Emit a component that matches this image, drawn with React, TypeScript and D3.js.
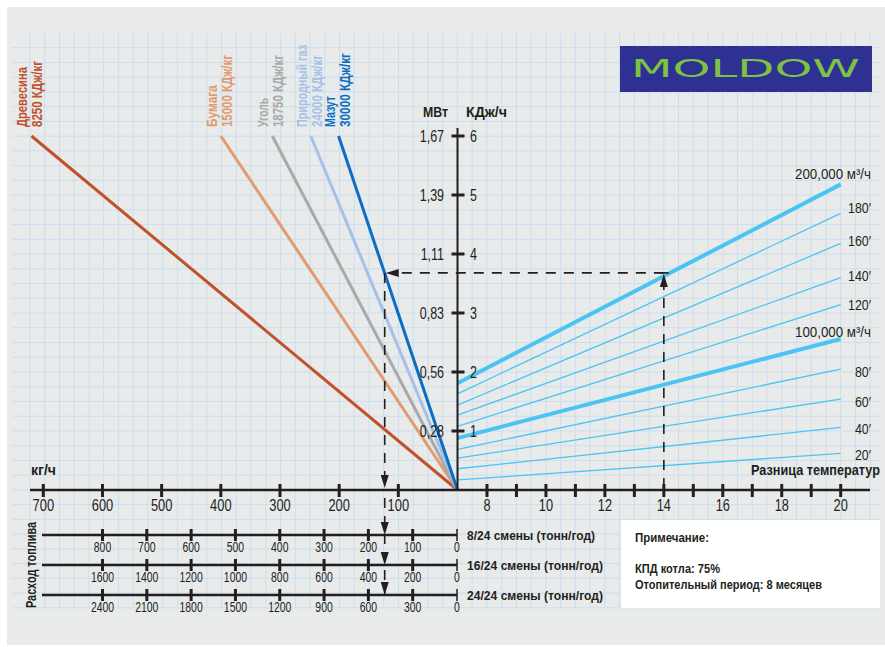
import React from "react";
import * as d3 from "d3";

// ---------- DATA ----------
const fuelNames = ["Древесина", "Бумага", "Уголь", "Природный газ", "Мазут"];
const fuelHeat = ["8250 КДж/кг", "15000 КДж/кг", "18750 КДж/кг", "24000 КДж/кг", "30000 КДж/кг"];
// kg/h at which each fuel line reaches the top of the energy scale (6)
const fuelKgAtTop = [720, 400, 313, 248, 201];
const fuelTopEnergy = 6;

const flowLabels = ["200,000 м³/ч", "180′", "160′", "140′", "120′", "100,000 м³/ч", "80′", "60′", "40′", "20′"];
const flowThick = [true, false, false, false, false, true, false, false, false, false];
const flowAtDT7 = [1.81, 1.63, 1.44, 1.27, 1.08, 0.88, 0.69, 0.54, 0.36, 0.17];
const flowAtDT20 = [5.18, 4.69, 4.18, 3.6, 3.14, 2.56, 2.05, 1.54, 1.06, 0.62];

const kgTicks = [100, 200, 300, 400, 500, 600, 700];
const tempTicks = [8, 9, 10, 11, 12, 13, 14, 15, 16, 17, 18, 19, 20];
const tempLabelTicks = [8, 10, 12, 14, 16, 18, 20];
const energyTicks = [1, 2, 3, 4, 5, 6];
const mwLabels = ["0,28", "0,56", "0,83", "1,11", "1,39", "1,67"];

const shift8 = [800, 700, 600, 500, 400, 300, 200, 100, 0];
const shift16 = [1600, 1400, 1200, 1000, 800, 600, 400, 200, 0];
const shift24 = [2400, 2100, 1800, 1500, 1200, 900, 600, 300, 0];
const shiftNames = ["8/24 смены (тонн/год)", "16/24 смены (тонн/год)", "24/24 смены (тонн/год)"];

const exampleDT = 14;
const exampleEnergy = 3.68;
const exampleKg = 123;

const noteLines = ["Примечание:", "КПД котла: 75%", "Отопительный период: 8 месяцев"];

// ---------- STYLE ----------
const fuelColors = ["#c1502b", "#e29a70", "#a9a9a9", "#a5c1e7", "#0b6ec3"];
const flowColor = "#4cc4f3";
const ink = "#231f20";
const FONT = "'Liberation Sans', Arial, sans-serif";
const flowLabelDy = [-5, 0, 3, 3, 5, -2, 8, 8, 7, 7];
const fuelNameLen = [60, 42, 29, 82, 31];
const fuelHeatLen = [66, 72, 72, 72, 74];
const noteLen = [74, 85, 187];
const shiftLen = [128, 136, 136];

type TP = {
  x: number; y: number; children: React.ReactNode; size: number; bold?: boolean;
  anchor?: "start" | "middle" | "end"; fill?: string; len?: number; sx?: number; rot?: number;
};
function T({ x, y, children, size, bold, anchor = "start", fill = ink, len, sx = 0.78, rot = 0 }: TP) {
  if (len) {
    return (
      <text x={0} y={0} transform={`translate(${x},${y}) rotate(${rot})`} fontSize={size}
        fontWeight={bold ? "bold" : "normal"} textAnchor={anchor} fill={fill}
        textLength={len} lengthAdjust="spacingAndGlyphs">{children}</text>
    );
  }
  return (
    <text x={0} y={0} transform={`translate(${x},${y}) rotate(${rot}) scale(${sx},1)`} fontSize={size}
      fontWeight={bold ? "bold" : "normal"} textAnchor={anchor} fill={fill}>{children}</text>
  );
}

export default function App() {
  const W = 885, H = 647;
  const x0 = 457.5, y0 = 490;
  const xKg = d3.scaleLinear().domain([0, 700]).range([x0, 43.3]);
  const xT = d3.scaleLinear().domain([7, 20]).range([x0, 840.7]);
  const yE = d3.scaleLinear().domain([0, 6]).range([y0, 136]);
  const xShift = d3.scaleLinear().domain([0, 800]).range([457, 102.5]);
  const shiftRowsY = [535, 565, 595];
  const shiftRows = [shift8, shift16, shift24];

  const gridS = 14.74;
  const vx: number[] = [];
  for (let x = 30; x <= 881; x += gridS) vx.push(x);
  const hy: number[] = [];
  for (let y = 47.7; y <= 609; y += gridS) hy.push(y);

  const line = d3.line<[number, number]>().x(d => d[0]).y(d => d[1]);

  const arrow = (x: number, y: number, dir: "up" | "down" | "left") => {
    const L = 13, w = 4;
    let pts: [number, number][];
    if (dir === "up") pts = [[x, y], [x - w, y + L], [x + w, y + L]];
    else if (dir === "down") pts = [[x, y], [x - w, y - L], [x + w, y - L]];
    else pts = [[x, y], [x + L, y - w], [x + L, y + w]];
    return <path d={line(pts) + "Z"} fill={ink} />;
  };

  const exX = xT(exampleDT);
  const exY = yE(exampleEnergy);
  const exKX = xKg(exampleKg);

  return (
    <svg width={W} height={H} style={{ position: "absolute", left: 0, top: 0 }} fontFamily={FONT}>
      <rect x={0} y={0} width={W} height={H} fill="#ffffff" />
      <rect x={7} y={7} width={878} height={638} fill="#e9ebeb" />
      {/* grid */}
      <g stroke="#cbdeee" strokeWidth={1}>
        {vx.map((x, i) => <line key={"v" + i} x1={x} x2={x} y1={33} y2={608} />)}
        {hy.map((y, i) => <line key={"h" + i} x1={12} x2={880} y1={y} y2={y} />)}
      </g>

      {/* logo */}
      <rect x={620} y={46} width={252} height={46} fill="#2e3191" />
      <text x={631} y={77} fontFamily="'DejaVu Sans', sans-serif" fontSize={25} fill="#7dc243"
        textLength={229} lengthAdjust="spacingAndGlyphs">MOLDOW</text>

      {/* note box */}
      <rect x={621} y={520} width={259} height={88} fill="#ffffff" />
      <T x={635} y={542} size={13.5} bold len={noteLen[0]}>{noteLines[0]}</T>
      <T x={635} y={573} size={13.5} bold len={noteLen[1]}>{noteLines[1]}</T>
      <T x={635} y={588.5} size={13.5} bold len={noteLen[2]}>{noteLines[2]}</T>

      {/* flow lines */}
      {flowLabels.map((lab, i) => (
        <g key={"f" + i}>
          <path d={line([[xT(7), yE(flowAtDT7[i])], [xT(20), yE(flowAtDT20[i])]])!}
            stroke={flowColor} strokeWidth={flowThick[i] ? 4 : 1.3} fill="none" />
          {flowThick[i]
            ? <T x={795} y={yE(flowAtDT20[i]) + flowLabelDy[i]} size={15} len={76}>{lab}</T>
            : <T x={871} y={yE(flowAtDT20[i]) + flowLabelDy[i]} size={15.5} anchor="end" sx={0.8}>{lab}</T>}
        </g>
      ))}

      {/* fuel lines */}
      {fuelNames.map((n, i) => (
        <path key={"fl" + i} d={line([[xKg(0), yE(0)], [xKg(fuelKgAtTop[i]), yE(fuelTopEnergy)]])!}
          stroke={fuelColors[i]} strokeWidth={3} fill="none" />
      ))}
      {fuelNames.map((n, i) => {
        const bx = xKg(fuelKgAtTop[i]);
        return (
          <g key={"flab" + i}>
            <T x={bx - 4} y={127} rot={-90} size={14} bold fill={fuelColors[i]} len={fuelNameLen[i]}>{n}</T>
            <T x={bx + 11} y={127} rot={-90} size={14} bold fill={fuelColors[i]} len={fuelHeatLen[i]}>{fuelHeat[i]}</T>
          </g>
        );
      })}

      {/* dashed example */}
      <g stroke={ink} strokeWidth={1.6} strokeDasharray="10,8" fill="none">
        <line x1={exX} x2={exX} y1={y0 - 2} y2={exY + 14} />
        <line x1={exX} x2={exKX + 14} y1={exY} y2={exY} />
        <line x1={exKX} x2={exKX} y1={exY} y2={y0 - 14} />
        <line x1={exKX} x2={exKX} y1={y0 + 8} y2={shiftRowsY[2]} />
      </g>
      <line x1={exX - 5} x2={exX + 5} y1={exY} y2={exY} stroke={ink} strokeWidth={1.6} />
      {arrow(exX, exY + 1, "up")}
      {arrow(exKX + 1, exY, "left")}
      {arrow(exKX, y0 - 2, "down")}
      {shiftRowsY.map((y, i) => <g key={"ar" + i}>{arrow(exKX, y, "down")}</g>)}

      {/* main horizontal axis */}
      <line x1={30} x2={870} y1={y0} y2={y0} stroke={ink} strokeWidth={2.5} />
      {kgTicks.map(t => (
        <g key={"k" + t}>
          <line x1={xKg(t)} x2={xKg(t)} y1={y0 - 6} y2={y0 + 7} stroke={ink} strokeWidth={3} />
          <T x={xKg(t)} y={511} anchor="middle" size={16.5}>{t}</T>
        </g>
      ))}
      {tempTicks.map(t => (
        <line key={"t" + t} x1={xT(t)} x2={xT(t)} y1={y0 - 6} y2={y0 + 7} stroke={ink} strokeWidth={3} />
      ))}
      {tempLabelTicks.map(t => (
        <g key={"tl" + t}><T x={xT(t)} y={511} anchor="middle" size={17} sx={0.75}>{t}</T></g>
      ))}
      <T x={31} y={475} size={14} bold len={25}>кг/ч</T>
      <T x={751} y={475} size={15.5} bold len={129}>Разница температур</T>

      {/* vertical axis */}
      <line x1={x0} x2={x0} y1={y0} y2={128} stroke={ink} strokeWidth={2} />
      {energyTicks.map((t, i) => (
        <g key={"e" + t}>
          <line x1={x0 - 6} x2={x0 + 7} y1={yE(t)} y2={yE(t)} stroke={ink} strokeWidth={3} />
          <T x={444} y={yE(t) + 5.5} anchor="end" size={16}>{mwLabels[i]}</T>
          <T x={470} y={yE(t) + 5.5} size={16}>{t}</T>
        </g>
      ))}
      <T x={423} y={117} size={14.5} bold len={25}>МВт</T>
      <T x={466} y={117} size={14.5} bold len={41}>КДж/ч</T>

      {/* bottom consumption axes */}
      {shiftRows.map((row, r) => (
        <g key={"s" + r}>
          <line x1={42} x2={457} y1={shiftRowsY[r]} y2={shiftRowsY[r]} stroke={ink} strokeWidth={2.5} />
          {row.map((v, j) => (
            <g key={j}>
              <line x1={xShift(shift8[j])} x2={xShift(shift8[j])} y1={shiftRowsY[r] - 6} y2={shiftRowsY[r] + 6}
                stroke={ink} strokeWidth={j === row.length - 1 ? 1.5 : 3} />
              <T x={xShift(shift8[j])} y={shiftRowsY[r] + 17} anchor="middle" size={14.5} sx={0.72}>{v}</T>
            </g>
          ))}
          <T x={467} y={shiftRowsY[r] + 5} size={13.5} bold len={shiftLen[r]}>{shiftNames[r]}</T>
        </g>
      ))}
      <T x={36} y={608} rot={-90} size={14} bold len={86}>Расход топлива</T>
    </svg>
  );
}
